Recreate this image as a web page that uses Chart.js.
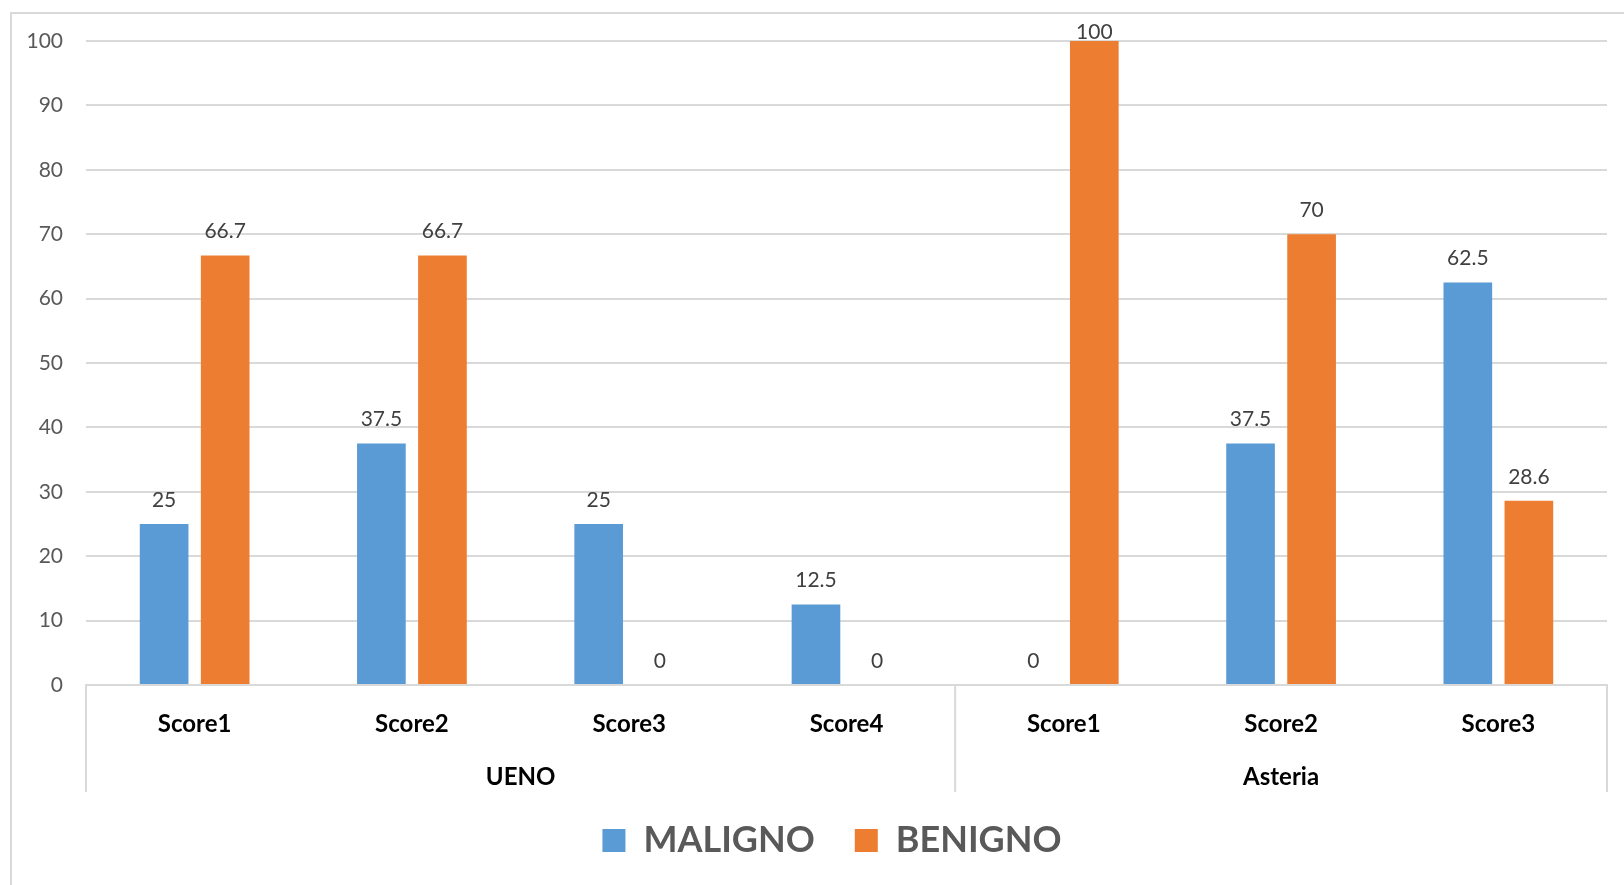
<!DOCTYPE html>
<html>
<head>
<meta charset="utf-8">
<script src="https://cdn.jsdelivr.net/npm/chart.js@4.4.1/dist/chart.umd.min.js"></script>
<style>
    html, body { margin: 0; padding: 0; background: #fff; overflow: hidden; }
    #frame { position: absolute; left: 10px; top: 12px; width: 1640px; height: 900px;
             border-left: 2px solid #d9d9d9; border-top: 2px solid #d9d9d9; box-sizing: border-box; }
    #wrap { position: absolute; left: 0; top: 0; width: 1624px; height: 885px; }
</style>
</head>
<body>
<div id="frame"></div>
<div id="wrap"><canvas id="chart" width="1624" height="885"></canvas></div>
<script>
// ── Daten ──────────────────────────────────────────────────────────────
const categories  = ['Score1', 'Score2', 'Score3', 'Score4', 'Score1', 'Score2', 'Score3'];
const groupLabels = ['UENO', 'Asteria'];
const groupSizes  = [4, 3];
const maligno     = [25, 37.5, 25, 12.5, 0, 37.5, 62.5];
const benigno     = [66.7, 66.7, 0, 0, 100, 70, 28.6];
const yTicks      = [0, 10, 20, 30, 40, 50, 60, 70, 80, 90, 100];

const BLUE   = '#5B9BD5';
const ORANGE = '#ED7D31';
const GRID   = '#d9d9d9';
const FONT   = 'Lato';

// Wertebeschriftung über den Balken
const valueLabels = {
    id: 'valueLabels',
    afterDatasetsDraw(chart) {
        const ctx = chart.ctx;
        ctx.save();
        ctx.font = `21px ${FONT}`;
        ctx.fillStyle = '#404040';
        ctx.textAlign = 'center';
        ctx.textBaseline = 'middle';
        chart.data.datasets.forEach((ds, di) => {
            chart.getDatasetMeta(di).data.forEach((bar, i) => {
                const y = Math.max(bar.y - 24, 32);
                ctx.fillText(String(ds.data[i]), bar.x, y);
            });
        });
        ctx.restore();
    }
};

// Gruppenachse (UENO / Asteria) mit Trennlinien
const groupAxis = {
    id: 'groupAxis',
    afterLayout(chart) {
        // Legende etwas nach rechts, wie im Original
        if (chart.legend) { chart.legend.left += 8; chart.legend.right += 8; }
    },
    afterDraw(chart) {
        const x   = chart.scales.x;
        const ctx = chart.ctx;
        const top = chart.chartArea.bottom;
        const bottom = 792;
        const edges = [x.left];
        let idx = 0;
        groupSizes.forEach(n => {
            idx += n;
            edges.push(idx >= categories.length
                ? x.right
                : (x.getPixelForValue(idx - 1) + x.getPixelForValue(idx)) / 2);
        });
        ctx.save();
        ctx.strokeStyle = GRID;
        ctx.lineWidth = 2;
        edges.forEach(px => {
            ctx.beginPath();
            ctx.moveTo(px, top);
            ctx.lineTo(px, bottom);
            ctx.stroke();
        });
        ctx.font = `bold 24px ${FONT}`;
        ctx.fillStyle = '#000';
        ctx.textAlign = 'center';
        ctx.textBaseline = 'middle';
        groupLabels.forEach((lbl, g) => {
            ctx.fillText(lbl, (edges[g] + edges[g + 1]) / 2, 777);
        });
        ctx.restore();
    }
};

new Chart(document.getElementById('chart'), {
    type: 'bar',
    data: {
        labels: categories,
        datasets: [
            { label: 'MALIGNO', data: maligno, backgroundColor: BLUE,   categoryPercentage: 0.562, barPercentage: 0.797 },
            { label: 'BENIGNO', data: benigno, backgroundColor: ORANGE, categoryPercentage: 0.562, barPercentage: 0.797 }
        ]
    },
    options: {
        responsive: false,
        animation: false,
        layout: { padding: { top: 41, right: 0, left: 24, bottom: 16.5 } },
        plugins: {
            tooltip: { enabled: false },
            legend: {
                position: 'bottom',
                labels: {
                    boxWidth: 23,
                    boxHeight: 23,
                    padding: 40,
                    color: '#595959',
                    font: { family: FONT, size: 36, weight: 'bold' }
                }
            }
        },
        scales: {
            x: {
                grid: { display: false, drawTicks: false },
                border: { color: GRID, width: 2 },
                ticks: {
                    autoSkip: false,
                    maxRotation: 0,
                    padding: 25,
                    color: '#000',
                    font: { family: FONT, size: 24, weight: 'bold' }
                },
                afterFit(scale) { scale.height = 97.5; }
            },
            y: {
                min: 0,
                max: 100,
                afterBuildTicks(scale) { scale.ticks = yTicks.map(v => ({ value: v })); },
                grid: { color: GRID, lineWidth: 2, drawTicks: false },
                border: { display: false },
                ticks: {
                    padding: 23,
                    color: '#595959',
                    font: { family: FONT, size: 21 }
                },
                afterFit(scale) { scale.width = 62; }
            },
            // leerer Rand rechts
            yRight: {
                position: 'right',
                grid: { display: false, drawTicks: false },
                border: { display: false },
                ticks: { display: false },
                afterFit(scale) { scale.width = 17; }
            }
        }
    },
    plugins: [valueLabels, groupAxis]
});
</script>
</body>
</html>
